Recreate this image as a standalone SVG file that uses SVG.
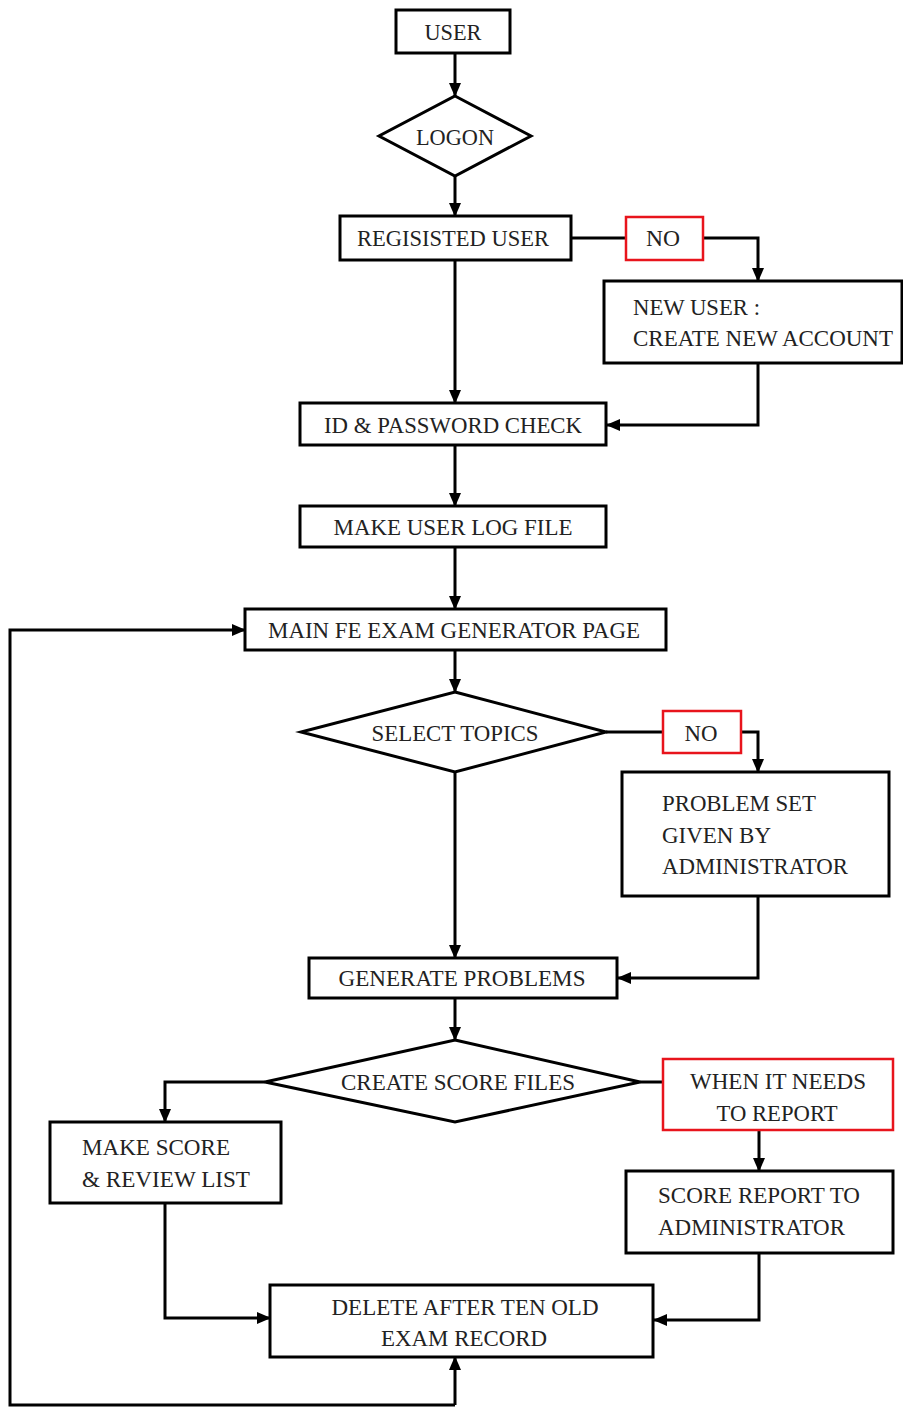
<svg xmlns="http://www.w3.org/2000/svg" width="903" height="1407" viewBox="0 0 903 1407">
<style>
.b{fill:#fff;stroke:#000;stroke-width:3}
.r{fill:#fff;stroke:#e8141c;stroke-width:2.5}
.c{fill:none;stroke:#000;stroke-width:3}
text{font-family:"Liberation Serif","Times New Roman",serif;font-size:23px;fill:#222}
.m{text-anchor:middle}
</style>
<defs>
<marker id="a" markerUnits="userSpaceOnUse" markerWidth="14" markerHeight="12" refX="13" refY="6" orient="auto">
<path d="M0,0 L14,6 L0,12 Z" fill="#000"/>
</marker>
</defs>
<g id="connectors">
<path class="c" d="M455,53 V96" marker-end="url(#a)"/>
<path class="c" d="M455,176 V216" marker-end="url(#a)"/>
<path class="c" d="M571,238 H626"/>
<path class="c" d="M703,238 H758 V281" marker-end="url(#a)"/>
<path class="c" d="M455,260 V403" marker-end="url(#a)"/>
<path class="c" d="M758,363 V425 H607" marker-end="url(#a)"/>
<path class="c" d="M455,445 V506" marker-end="url(#a)"/>
<path class="c" d="M455,547 V609" marker-end="url(#a)"/>
<path class="c" d="M455,650 V692" marker-end="url(#a)"/>
<path class="c" d="M606,732 H663"/>
<path class="c" d="M741,732 H758 V772" marker-end="url(#a)"/>
<path class="c" d="M455,772 V958" marker-end="url(#a)"/>
<path class="c" d="M758,896 V978 H618" marker-end="url(#a)"/>
<path class="c" d="M455,998 V1040" marker-end="url(#a)"/>
<path class="c" d="M265,1082 H165 V1122" marker-end="url(#a)"/>
<path class="c" d="M640,1082 H663"/>
<path class="c" d="M759,1130 V1171" marker-end="url(#a)"/>
<path class="c" d="M759,1253 V1320 H654" marker-end="url(#a)"/>
<path class="c" d="M165,1203 V1318 H270" marker-end="url(#a)"/>
<path class="c" d="M455,1405 V1357" marker-end="url(#a)"/>
<path class="c" d="M455,1405 H10 V630 H245" marker-end="url(#a)"/>
</g>
<g id="user"><rect class="b" x="396" y="10" width="114" height="43"/><text class="m" x="453" y="40" textLength="57" lengthAdjust="spacingAndGlyphs">USER</text></g>
<g id="logon"><polygon class="b" points="455,96 531,136 455,176 379,136"/><text class="m" x="455" y="145" textLength="78" lengthAdjust="spacingAndGlyphs">LOGON</text></g>
<g id="registered"><rect class="b" x="340" y="216" width="231" height="44"/><text class="m" x="453" y="246" textLength="192" lengthAdjust="spacingAndGlyphs">REGISISTED USER</text></g>
<g id="no1"><rect class="r" x="626" y="217" width="77" height="43"/><text class="m" x="663" y="246" textLength="34" lengthAdjust="spacingAndGlyphs">NO</text></g>
<g id="newuser"><rect class="b" x="604" y="281" width="298" height="82"/><text x="633" y="315" textLength="127" lengthAdjust="spacingAndGlyphs">NEW USER :</text><text x="633" y="346" textLength="260" lengthAdjust="spacingAndGlyphs">CREATE NEW ACCOUNT</text></g>
<g id="idcheck"><rect class="b" x="300" y="403" width="306" height="42"/><text class="m" x="453" y="433" textLength="258" lengthAdjust="spacingAndGlyphs">ID &amp; PASSWORD CHECK</text></g>
<g id="logfile"><rect class="b" x="300" y="506" width="306" height="41"/><text class="m" x="453" y="535" textLength="239" lengthAdjust="spacingAndGlyphs">MAKE USER LOG FILE</text></g>
<g id="mainpage"><rect class="b" x="245" y="609" width="421" height="41"/><text class="m" x="454" y="638" textLength="372" lengthAdjust="spacingAndGlyphs">MAIN FE EXAM GENERATOR PAGE</text></g>
<g id="selecttopics"><polygon class="b" points="455,692 606,732 455,772 301,732"/><text class="m" x="455" y="741" textLength="167" lengthAdjust="spacingAndGlyphs">SELECT TOPICS</text></g>
<g id="no2"><rect class="r" x="663" y="711" width="78" height="42"/><text class="m" x="701" y="741" textLength="33" lengthAdjust="spacingAndGlyphs">NO</text></g>
<g id="problemset"><rect class="b" x="622" y="772" width="267" height="124"/><text x="662" y="811" textLength="154" lengthAdjust="spacingAndGlyphs">PROBLEM SET</text><text x="662" y="843" textLength="109" lengthAdjust="spacingAndGlyphs">GIVEN BY</text><text x="662" y="874" textLength="186" lengthAdjust="spacingAndGlyphs">ADMINISTRATOR</text></g>
<g id="generate"><rect class="b" x="309" y="958" width="308" height="40"/><text class="m" x="462" y="986" textLength="247" lengthAdjust="spacingAndGlyphs">GENERATE PROBLEMS</text></g>
<g id="createscore"><polygon class="b" points="455,1040 640,1082 455,1122 265,1082"/><text class="m" x="458" y="1090" textLength="234" lengthAdjust="spacingAndGlyphs">CREATE SCORE FILES</text></g>
<g id="whenreport"><rect class="r" x="663" y="1059" width="230" height="71"/><text class="m" x="778" y="1089" textLength="176" lengthAdjust="spacingAndGlyphs">WHEN IT NEEDS</text><text class="m" x="777" y="1121" textLength="121" lengthAdjust="spacingAndGlyphs">TO REPORT</text></g>
<g id="makescore"><rect class="b" x="50" y="1122" width="231" height="81"/><text x="82" y="1155" textLength="148" lengthAdjust="spacingAndGlyphs">MAKE SCORE</text><text x="82" y="1187" textLength="168" lengthAdjust="spacingAndGlyphs">&amp; REVIEW LIST</text></g>
<g id="scorereport"><rect class="b" x="626" y="1171" width="267" height="82"/><text x="658" y="1203" textLength="202" lengthAdjust="spacingAndGlyphs">SCORE REPORT TO</text><text x="658" y="1235" textLength="187" lengthAdjust="spacingAndGlyphs">ADMINISTRATOR</text></g>
<g id="delete"><rect class="b" x="270" y="1285" width="383" height="72"/><text class="m" x="465" y="1315" textLength="267" lengthAdjust="spacingAndGlyphs">DELETE AFTER TEN OLD</text><text class="m" x="464" y="1346" textLength="166" lengthAdjust="spacingAndGlyphs">EXAM RECORD</text></g>
</svg>
